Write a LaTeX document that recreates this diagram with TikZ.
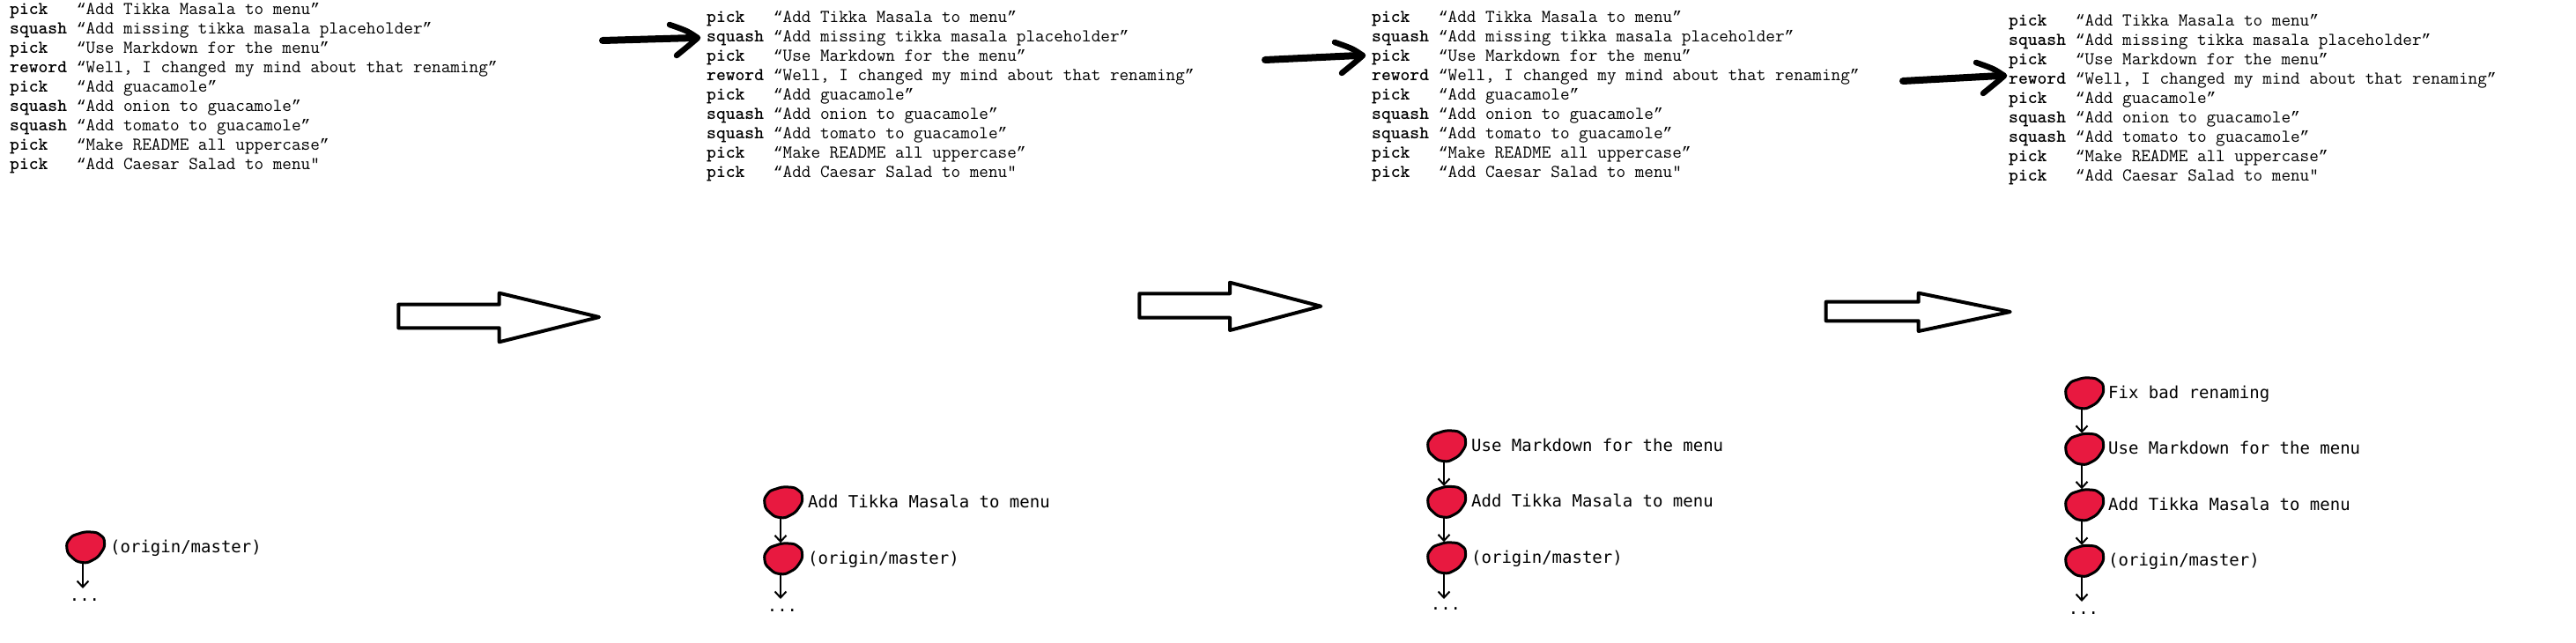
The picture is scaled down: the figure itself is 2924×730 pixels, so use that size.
\documentclass[tikz,border=0pt]{standalone}
\usepackage{fontspec}
\usetikzlibrary{calc,arrows.meta}
\newfontfamily\labelfont{DejaVu Sans Mono}
\newfontfamily\quotefont{Liberation Mono}
\definecolor{blobred}{RGB}{232,25,64}
\newcommand\kw[1]{\makebox[3.675em][l]{\bfseries #1}}
\newcommand\oq{{\quotefont\fontsize{18}{22}\selectfont “}}
\newcommand\cq{{\quotefont\fontsize{18}{22}\selectfont ”}}
% commit blob: name, x, y (centre)
\newcommand\commit[3]{%
  \begin{scope}[shift={(#2,#3)}]
    \filldraw[blob] plot[smooth cycle, tension=0.9] coordinates
      {(-21,2) (-18,-9) (-8,-15) (6,-17) (17,-13.5) (21.5,-5) (18,6) (8,15) (-4,17.5) (-15,12)};
  \end{scope}
  \node[commitnode] (#1) at (#2,#3) {};
}
% hand drawn arrow: start coordinate, tip coordinate
\newcommand\handarrow[2]{%
  \draw[handshaft] (#1) -- ($(#2)+(-5,0)$);
  \draw[handhead] ($(#2)+(-32,-15)$) .. controls ($(#2)+(-12,-8)$) .. (#2)
        .. controls ($(#2)+(-8,7)$) .. ($(#2)+(-24,20)$);
}
\tikzset{
  codeline/.style={anchor=base west, inner sep=0pt, font={\ttfamily\fontsize{20.6}{22}\selectfont}},
  msg/.style={anchor=base west, inner sep=0pt, font={\labelfont\fontsize{19}{23}\selectfont}},
  dotsnode/.style={anchor=base, inner sep=0pt, font={\labelfont\fontsize{19}{23}\selectfont}},
  commitnode/.style={circle, minimum size=35pt, inner sep=0pt},
  blob/.style={fill=blobred, draw=black, line width=3pt, line join=round},
  parent/.style={line width=2pt, -{Straight Barb[length=7pt,width=13pt,line width=2pt]}},
  bigarrow/.style={draw=black, line width=4pt, line join=round},
  handshaft/.style={line width=8pt, line cap=round},
  handhead/.style={line width=6.5pt, line cap=round, line join=round},
}
\begin{document}
\begin{tikzpicture}[x=1pt, y=-1pt]
\useasboundingbox (0,0) rectangle (2924,730);
\fill[white] (0,0) rectangle (2924,730);

% ---------- rebase todo lists ----------
\foreach \p/\px/\py in {1/11/17, 2/802/26, 3/1557/26, 4/2280/30}{
  \foreach \k/\t [count=\i] in {
      pick/{\oq Add Tikka Masala to menu\cq},
      squash/{\oq Add missing tikka masala placeholder\cq},
      pick/{\oq Use Markdown for the menu\cq},
      reword/{\oq Well, I changed my mind about that renaming\cq},
      pick/{\oq Add guacamole\cq},
      squash/{\oq Add onion to guacamole\cq},
      squash/{\oq Add tomato to guacamole\cq},
      pick/{\oq Make README all uppercase\cq},
      pick/{\oq Add Caesar Salad to menu"}}{
    \node[codeline] (p\p-\i) at (\px,{\py+22*(\i-1)}) {\kw{\k}\t};
  }
}

% ---------- hand drawn pointers ----------
\coordinate (h2s) at (684,46);
\coordinate (h2t) at ($(p2-2.base west)+(-10,-5)$);
\handarrow{h2s}{h2t}
\coordinate (h3s) at (1436,68);
\coordinate (h3t) at ($(p3-3.base west)+(-10,-7)$);
\handarrow{h3s}{h3t}
\coordinate (h4s) at (2160,92);
\coordinate (h4t) at ($(p4-4.base west)+(-5,-10)$);
\handarrow{h4s}{h4t}

% ---------- big hollow arrows ----------
\draw[bigarrow] (452.3,345.7) -- (566.7,345.7) -- (566.7,332.7) -- (680,360)
  -- (566.7,388.3) -- (566.7,372.3) -- (452.3,372.3) -- cycle;
\draw[bigarrow] (1293.3,333.3) -- (1396,333.3) -- (1396,320.7) -- (1499.3,347.7)
  -- (1396,375) -- (1396,360.7) -- (1293.3,360.7) -- cycle;
\draw[bigarrow] (2072.7,342.7) -- (2177.7,342.7) -- (2177.7,332.7) -- (2281.7,354)
  -- (2177.7,376) -- (2177.7,364.3) -- (2072.7,364.3) -- cycle;

% ---------- panel 1 graph ----------
\commit{g1a}{97}{621}
\node[msg] (m1a) at (125,627) {(origin/master)};
\coordinate (e1) at (94,668);
\draw[parent] ([xshift=-3pt]g1a.south) -- (e1);
\node[dotsnode] (d1) at (96,682) {...};

% ---------- panel 2 graph ----------
\commit{g2a}{889}{570}
\commit{g2b}{889}{634}
\node[msg] (m2a) at (917,576) {Add Tikka Masala to menu};
\node[msg] (m2b) at (917,640) {(origin/master)};
\draw[parent] ([xshift=-3pt]g2a.south) -- ([xshift=-3pt]g2b.north);
\coordinate (e2) at (886,680);
\draw[parent] ([xshift=-3pt]g2b.south) -- (e2);
\node[dotsnode] (d2) at (888,694) {...};

% ---------- panel 3 graph ----------
\commit{g3a}{1642}{506}
\commit{g3b}{1642}{569.5}
\commit{g3c}{1642}{633}
\node[msg] (m3a) at (1670,512) {Use Markdown for the menu};
\node[msg] (m3b) at (1670,575.5) {Add Tikka Masala to menu};
\node[msg] (m3c) at (1670,639) {(origin/master)};
\draw[parent] ([xshift=-3pt]g3a.south) -- ([xshift=-3pt]g3b.north);
\draw[parent] ([xshift=-3pt]g3b.south) -- ([xshift=-3pt]g3c.north);
\coordinate (e3) at (1639,680);
\draw[parent] ([xshift=-3pt]g3c.south) -- (e3);
\node[dotsnode] (d3) at (1641,692) {...};

% ---------- panel 4 graph ----------
\commit{g4a}{2366}{446}
\commit{g4b}{2366}{509.5}
\commit{g4c}{2366}{573}
\commit{g4d}{2366}{636.5}
\node[msg] (m4a) at (2393,452) {Fix bad renaming};
\node[msg] (m4b) at (2393,515.5) {Use Markdown for the menu};
\node[msg] (m4c) at (2393,579) {Add Tikka Masala to menu};
\node[msg] (m4d) at (2393,642.5) {(origin/master)};
\draw[parent] ([xshift=-3pt]g4a.south) -- ([xshift=-3pt]g4b.north);
\draw[parent] ([xshift=-3pt]g4b.south) -- ([xshift=-3pt]g4c.north);
\draw[parent] ([xshift=-3pt]g4c.south) -- ([xshift=-3pt]g4d.north);
\coordinate (e4) at (2363,683);
\draw[parent] ([xshift=-3pt]g4d.south) -- (e4);
\node[dotsnode] (d4) at (2365,697) {...};
\end{tikzpicture}
\end{document}
